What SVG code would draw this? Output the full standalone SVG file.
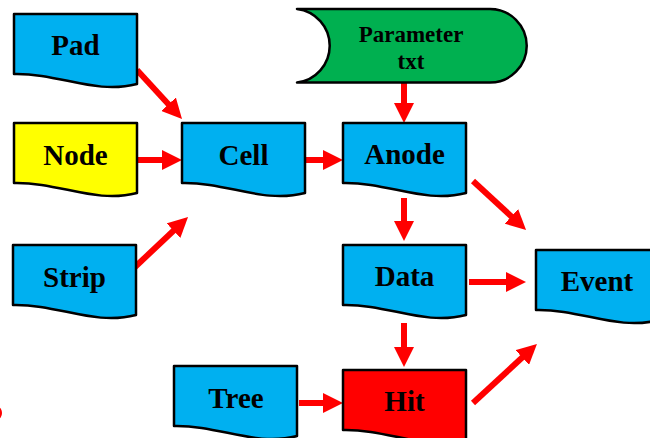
<svg xmlns="http://www.w3.org/2000/svg" width="650" height="438" viewBox="0 0 650 438">
<style>
.doc{stroke:#000;stroke-width:2.5;stroke-linejoin:round}
.blue{fill:#00B0F0}
.yellow{fill:#FFFF00}
.green{fill:#00B050}
.red{fill:#FF0000}
.lbl{font-family:"Liberation Serif","Times New Roman",serif;font-weight:bold;font-size:29px;fill:#000;text-anchor:middle}
.small{font-size:23px}
.arr{stroke:#FF0000;stroke-width:6;fill:none;marker-end:url(#ah)}
</style>
<defs>
<marker id="ah" markerUnits="userSpaceOnUse" viewBox="0 0 20 20" refX="4" refY="10" markerWidth="20" markerHeight="20" orient="auto">
<path d="M0,0 L20,10 L0,20 z" fill="#FF0000"/>
</marker>
<path id="doc" d="M0,0 H123 V70 C81,81 45.5,59 0,60 Z"/>
</defs>
<rect width="650" height="438" fill="#fff"/>
<ellipse cx="-2" cy="413" rx="4" ry="6" fill="#FF0000"/>
<g id="connectors">
<line class="arr" x1="137" y1="70" x2="171.2" y2="107.2"/>
<line class="arr" x1="137" y1="160" x2="166" y2="160"/>
<line class="arr" x1="135" y1="267" x2="176.4" y2="228"/>
<line class="arr" x1="305" y1="160" x2="327" y2="160"/>
<line class="arr" x1="404" y1="83" x2="404" y2="107"/>
<line class="arr" x1="404" y1="198" x2="404" y2="225"/>
<line class="arr" x1="473" y1="181" x2="514.3" y2="219.1"/>
<line class="arr" x1="469" y1="282" x2="510" y2="282"/>
<line class="arr" x1="404" y1="323" x2="404" y2="351"/>
<line class="arr" x1="299" y1="403" x2="327" y2="403"/>
<line class="arr" x1="473" y1="403" x2="525.2" y2="354.8"/>
</g>
<g id="pad"><use href="#doc" class="doc blue" x="14" y="14"/><text class="lbl" x="75.5" y="55">Pad</text></g>
<g id="node"><use href="#doc" class="doc yellow" x="14" y="123"/><text class="lbl" x="75.5" y="165">Node</text></g>
<g id="strip"><use href="#doc" class="doc blue" x="13" y="245"/><text class="lbl" x="74.5" y="287">Strip</text></g>
<g id="cell"><use href="#doc" class="doc blue" x="182" y="123"/><text class="lbl" x="243.5" y="165">Cell</text></g>
<g id="anode"><use href="#doc" class="doc blue" x="343" y="123"/><text class="lbl" x="404.5" y="164">Anode</text></g>
<g id="data"><use href="#doc" class="doc blue" x="343" y="245"/><text class="lbl" x="404.5" y="286">Data</text></g>
<g id="event"><use href="#doc" class="doc blue" x="536" y="250"/><text class="lbl" x="597" y="291">Event</text></g>
<g id="tree"><use href="#doc" class="doc blue" x="174" y="366"/><text class="lbl" x="236" y="408">Tree</text></g>
<g id="hit"><use href="#doc" class="doc red" x="343" y="370"/><text class="lbl" x="404.5" y="411">Hit</text></g>
<g id="parameter">
<path class="doc green" d="M297,9 H490 A36.7,36.7 0 0 1 490,82.5 H297 A37,37 0 0 0 297,9 Z"/>
<text class="lbl small" x="411" y="41.5">Parameter</text>
<text class="lbl small" x="411" y="69">txt</text>
</g>
</svg>
